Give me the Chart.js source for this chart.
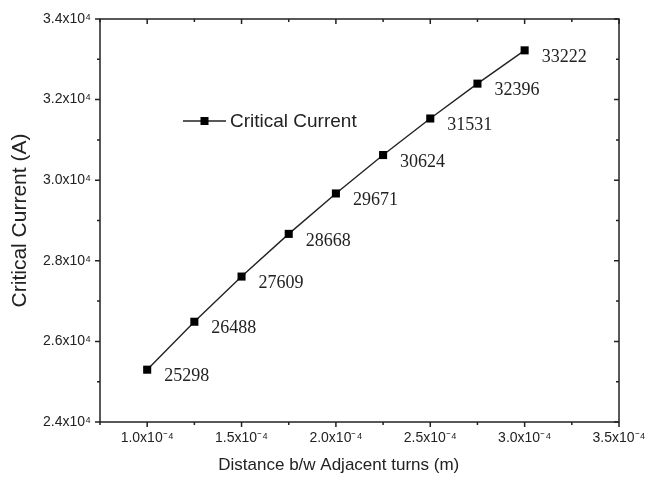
<!DOCTYPE html>
<html>
<head>
<meta charset="utf-8">
<script src="https://cdn.jsdelivr.net/npm/chart.js@4.4.0/dist/chart.umd.min.js"></script>
<style>
html,body{margin:0;padding:0;background:#fff;}
#wrap{width:646px;height:478px;}
</style>
</head>
<body>
<div id="wrap"><canvas id="c" width="646" height="478"></canvas></div>
<script>
const xValues = [1.0e-4, 1.25e-4, 1.5e-4, 1.75e-4, 2.0e-4, 2.25e-4, 2.5e-4, 2.75e-4, 3.0e-4];
const currentValues = [25298, 26488, 27609, 28668, 29671, 30624, 31531, 32396, 33222];
const seriesName = 'Critical Current';
const xTicks = [1.0e-4, 1.5e-4, 2.0e-4, 2.5e-4, 3.0e-4, 3.5e-4];
const xTickLabels = ['1.0x10\u207B\u2074','1.5x10\u207B\u2074','2.0x10\u207B\u2074','2.5x10\u207B\u2074','3.0x10\u207B\u2074','3.5x10\u207B\u2074'];
const xMinorTicks = [0.75e-4, 1.25e-4, 1.75e-4, 2.25e-4, 2.75e-4, 3.25e-4];
const yTicks = [24000, 26000, 28000, 30000, 32000, 34000];
const yTickLabels = ['2.4x10\u2074','2.6x10\u2074','2.8x10\u2074','3.0x10\u2074','3.2x10\u2074','3.4x10\u2074'];
const yMinorTicks = [25000, 27000, 29000, 31000, 33000];
const xTitle = 'Distance b/w Adjacent turns (m)';
const yTitle = 'Critical Current (A)';

const INK = '#222';

const framePlugin = {
  id: 'frame',
  afterDraw(chart) {
    const ctx = chart.ctx, a = chart.chartArea;
    const xs = chart.scales.x, ys = chart.scales.y;
    ctx.save();
    ctx.strokeStyle = INK;
    ctx.lineWidth = 1.5;
    ctx.strokeRect(a.left, a.top, a.right - a.left, a.bottom - a.top);
    const maj = 5, min = 3;
    ctx.beginPath();
    xTicks.forEach(v => {
      const px = xs.getPixelForValue(v);
      ctx.moveTo(px, a.bottom); ctx.lineTo(px, a.bottom + maj);
      ctx.moveTo(px, a.top); ctx.lineTo(px, a.top + maj);
    });
    xMinorTicks.forEach(v => {
      const px = xs.getPixelForValue(v);
      ctx.moveTo(px, a.bottom); ctx.lineTo(px, a.bottom + min);
      ctx.moveTo(px, a.top); ctx.lineTo(px, a.top + min);
    });
    yTicks.forEach(v => {
      const py = ys.getPixelForValue(v);
      ctx.moveTo(a.left, py); ctx.lineTo(a.left - maj, py);
      ctx.moveTo(a.right, py); ctx.lineTo(a.right - maj, py);
    });
    yMinorTicks.forEach(v => {
      const py = ys.getPixelForValue(v);
      ctx.moveTo(a.left, py); ctx.lineTo(a.left - min, py);
      ctx.moveTo(a.right, py); ctx.lineTo(a.right - min, py);
    });
    ctx.stroke();
    // x axis title (offset slightly left of chart-area centre, as in the original)
    ctx.fillStyle = INK;
    ctx.font = '17px "Liberation Sans", Arial, sans-serif';
    ctx.textAlign = 'center';
    ctx.textBaseline = 'middle';
    ctx.fillText(xTitle, a.left + (a.right - a.left) * 0.46, a.bottom + 43);
    ctx.restore();
  }
};

const labelPlugin = {
  id: 'pointLabels',
  afterDatasetsDraw(chart) {
    const ctx = chart.ctx;
    const meta = chart.getDatasetMeta(0);
    ctx.save();
    ctx.fillStyle = INK;
    ctx.font = '18px "Liberation Serif", "Times New Roman", serif';
    ctx.textAlign = 'left';
    ctx.textBaseline = 'middle';
    meta.data.forEach((pt, i) => {
      ctx.fillText(String(currentValues[i]), pt.x + 17, pt.y + 7);
    });
    ctx.restore();
  }
};

const legendPlugin = {
  id: 'innerLegend',
  afterDraw(chart) {
    const ctx = chart.ctx, a = chart.chartArea;
    const x = a.left + 83, y = a.top + 102;
    ctx.save();
    ctx.strokeStyle = INK;
    ctx.lineWidth = 1.5;
    ctx.beginPath();
    ctx.moveTo(x, y); ctx.lineTo(x + 43, y);
    ctx.stroke();
    ctx.fillStyle = '#000';
    ctx.fillRect(x + 17.5, y - 4, 8, 8);
    ctx.fillStyle = INK;
    ctx.font = '19px "Liberation Sans", Arial, sans-serif';
    ctx.textBaseline = 'middle';
    ctx.fillText(chart.data.datasets[0].label, x + 47, y + 1);
    ctx.restore();
  }
};

new Chart(document.getElementById('c'), {
  type: 'line',
  data: {
    datasets: [{
      label: seriesName,
      data: xValues.map((x, i) => ({ x: x, y: currentValues[i] })),
      borderColor: INK,
      borderWidth: 1.4,
      backgroundColor: '#000',
      pointStyle: 'rect',
      pointRadius: 5.7,
      pointBorderWidth: 0,
      pointBackgroundColor: '#000',
      tension: 0,
      fill: false
    }]
  },
  options: {
    responsive: false,
    animation: false,
    devicePixelRatio: 1,
    layout: { padding: { top: 19, right: 27, left: 0, bottom: 0 } },
    plugins: { legend: { display: false }, tooltip: { enabled: false } },
    scales: {
      x: {
        type: 'linear',
        min: 0.75e-4,
        max: 3.5e-4,
        afterBuildTicks(scale) { scale.ticks = xTicks.map(v => ({ value: v })); },
        afterFit(scale) { scale.height = 56; scale.paddingRight = 0; scale.paddingLeft = 0; },
        grid: { display: false, drawTicks: false },
        border: { display: false },
        ticks: {
          color: INK,
          font: { family: '"Liberation Sans", Arial, sans-serif', size: 14 },
          padding: 8,
          maxRotation: 0,
          autoSkip: false,
          callback: (v, i) => xTickLabels[i]
        },
        title: { display: false, text: xTitle }
      },
      y: {
        type: 'linear',
        min: 24000,
        max: 34000,
        afterBuildTicks(scale) { scale.ticks = yTicks.map(v => ({ value: v })); },
        afterFit(scale) { scale.width = 100; scale.paddingTop = 0; scale.paddingBottom = 0; },
        grid: { display: false, drawTicks: false },
        border: { display: false },
        ticks: {
          color: INK,
          font: { family: '"Liberation Sans", Arial, sans-serif', size: 14 },
          padding: 9,
          autoSkip: false,
          callback: (v, i) => yTickLabels[i]
        },
        title: {
          display: true,
          text: yTitle,
          color: INK,
          font: { family: '"Liberation Sans", Arial, sans-serif', size: 21 },
          padding: { top: 8, bottom: 2 }
        }
      }
    }
  },
  plugins: [framePlugin, labelPlugin, legendPlugin]
});
</script>
</body>
</html>
